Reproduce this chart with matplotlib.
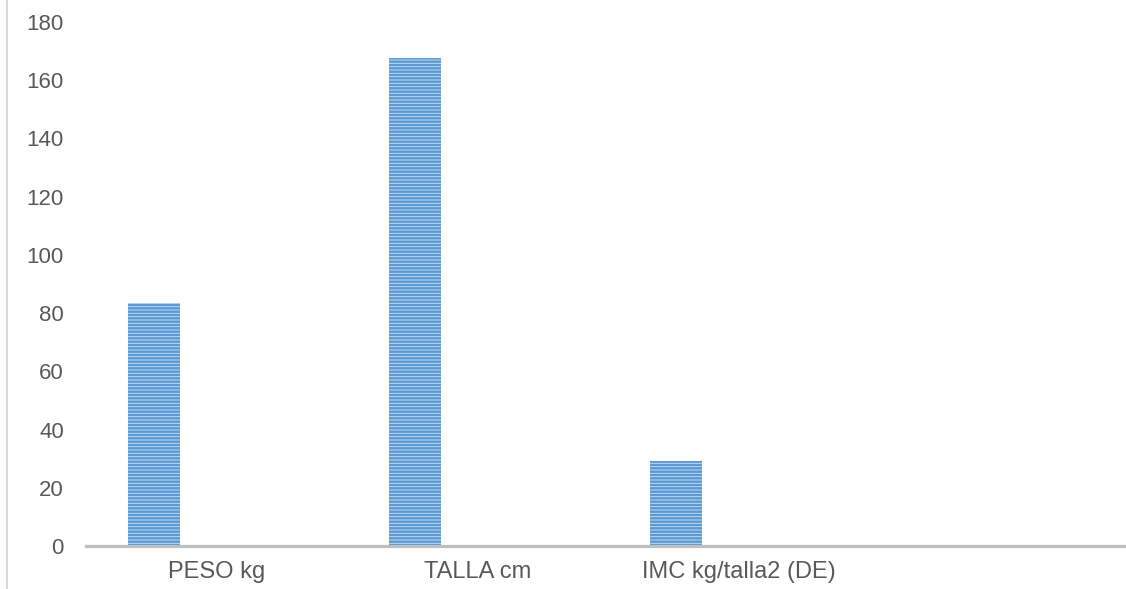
import matplotlib
matplotlib.use('Agg')
import matplotlib.pyplot as plt
from matplotlib.lines import Line2D

# Data
categories = ['PESO kg', 'TALLA cm', 'IMC kg/talla2 (DE)', '']
values = [83.5, 167.8, 29.3]
y_ticks = [0, 20, 40, 60, 80, 100, 120, 140, 160, 180]

plt.rcParams['font.family'] = ['Liberation Sans', 'DejaVu Sans']
plt.rcParams['hatch.linewidth'] = 1.8

fig = plt.figure(figsize=(11.26, 5.89), dpi=100)
ax = fig.add_axes([86 / 1126, 43 / 589, 1040 / 1126, 524 / 589])

x = range(len(values))
ax.bar([i - 0.24 for i in x], values, width=0.197,
       color='#CFE1F3', edgecolor='#5B9BD5', linewidth=0, hatch='-----')

ax.set_xlim(-0.5, 3.485)
ax.set_ylim(0, 180)
ax.set_yticks(y_ticks)
ax.set_xticks(range(len(categories)))
ax.set_xticklabels(categories)

for s in ['top', 'right', 'left']:
    ax.spines[s].set_visible(False)
ax.spines['bottom'].set_color('#BFBFBF')
ax.spines['bottom'].set_linewidth(2.3)

ax.tick_params(axis='y', length=0, pad=16, labelsize=16, labelcolor='#595959')
ax.tick_params(axis='x', length=0, pad=11, labelsize=17, labelcolor='#595959')

# thin border line at the left edge
fig.add_artist(Line2D([7 / 1126, 7 / 1126], [0, 1], color='#D9D9D9', linewidth=1.5))

plt.savefig('out.png', dpi=100, facecolor='white')
